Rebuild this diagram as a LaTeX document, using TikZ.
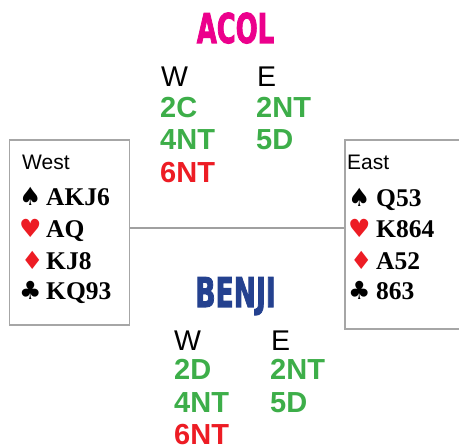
\documentclass[tikz,border=0pt]{standalone}
\usepackage{fontspec}
\setmainfont{Liberation Sans}
\newfontfamily\cardfont{Liberation Serif}
\newfontfamily\suitfont{DejaVu Sans}
\newfontfamily\titlefont[FakeBold=2.5]{DejaVu Sans Condensed Bold}
\definecolor{bidgreen}{HTML}{3DAE49}
\definecolor{bidred}{HTML}{ED1C24}
\definecolor{acolmag}{HTML}{EC008C}
\definecolor{benjiblue}{HTML}{24418F}
\definecolor{boxgray}{HTML}{A6A6A6}
\definecolor{linegray}{HTML}{A0A0A0}
\begin{document}
\begin{tikzpicture}[x=1pt,y=-1pt,
  txt/.style={inner sep=0pt,anchor=base west},
  hdr/.style={txt,font=\fontsize{28.5}{30}\selectfont},
  bidg/.style={txt,font=\fontsize{29}{30}\selectfont\bfseries,text=bidgreen},
  bidr/.style={txt,font=\fontsize{29}{30}\selectfont\bfseries,text=bidred},
  title/.style={inner sep=0pt,anchor=base,font=\titlefont\fontsize{41}{44}\selectfont},
  handbox/.style={draw=boxgray,line width=1.3pt,inner sep=0pt},
  seat/.style={txt,font=\fontsize{21}{22}\selectfont},
  cards/.style={txt,font=\cardfont\fontsize{25.5}{26}\selectfont\bfseries},
  suit/.style={txt,font=\suitfont\fontsize{25}{26}\selectfont},
]
\clip (0,0) rectangle (459,446);
\fill[white] (0,0) rectangle (459,446);
% hand boxes
\node[handbox,minimum width=120pt,minimum height=185pt] (westbox) at (69.5,232.5) {};
\node[handbox,minimum width=140pt,minimum height=189pt] (eastbox) at (415,234.5) {};
\draw[linegray,line width=2pt] (westbox.east |- 0,228.5) -- (eastbox.west |- 0,228.5);
% titles
\node[title,text=acolmag] (acol) at (235.5,43) {\scalebox{0.7}[1]{ACOL}};
\node[title,text=benjiblue] (benji) at (235.5,307) {\scalebox{0.72}[1]{BENJI}};
% ACOL auction
\node[hdr] (aw) at (161,87) {W};
\node[hdr] (ae) at (257,87) {E};
\node[bidg] (a1) at (160,118) {2C};
\node[bidg] (a2) at (256,118) {2NT};
\node[bidg] (a3) at (160,150) {4NT};
\node[bidg] (a4) at (256,150) {5D};
\node[bidr] (a5) at (160,183) {6NT};
% BENJI auction
\node[hdr] (bw) at (174,351) {W};
\node[hdr] (be) at (271,351) {E};
\node[bidg] (b1) at (174,380) {2D};
\node[bidg] (b2) at (270,380) {2NT};
\node[bidg] (b3) at (174,413) {4NT};
\node[bidg] (b4) at (270,413) {5D};
\node[bidr] (b5) at (174,444.5) {6NT};
% West hand
\node[seat] (wn) at (22,170) {West};
\node[suit] (ws) at (19,206) {♠};
\node[cards] (wsc) at (46,206) {AKJ6};
\node[suit,text=bidred] (wh) at (19,238) {♥};
\node[cards] (whc) at (46,238) {AQ};
\node[suit,text=bidred] (wd) at (21,270) {♦};
\node[cards] (wdc) at (46,270) {KJ8};
\node[suit] (wc) at (19,300) {♣};
\node[cards] (wcc) at (46,300) {KQ93};
% East hand
\node[seat] (en) at (347,170) {East};
\node[suit] (es) at (348,207) {♠};
\node[cards] (esc) at (376,207) {Q53};
\node[suit,text=bidred] (eh) at (348,238) {♥};
\node[cards] (ehc) at (376,238) {K864};
\node[suit,text=bidred] (ed) at (350,270) {♦};
\node[cards] (edc) at (376,270) {A52};
\node[suit] (ec) at (348,300) {♣};
\node[cards] (ecc) at (376,300) {863};
\end{tikzpicture}
\end{document}
